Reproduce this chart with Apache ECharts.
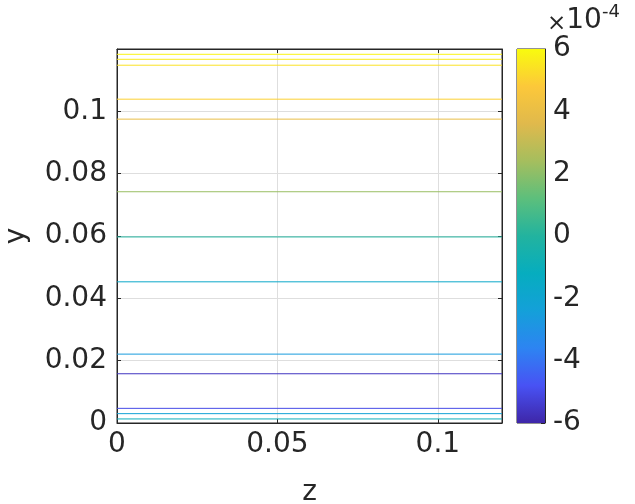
<!DOCTYPE html>
<html>
<head>
<meta charset="utf-8">
<script src="https://cdn.jsdelivr.net/npm/echarts@6/dist/echarts.min.js"></script>
<style>
  html, body { margin: 0; padding: 0; background: #fff; }
  #chart { width: 635px; height: 504px; }
</style>
</head>
<body>
<div id="chart"></div>
<script>
// Contour levels: y position of each horizontal contour and its level (units of 1e-4)
const contourY = [0.1183, 0.1167, 0.1148, 0.1039, 0.0975, 0.0742, 0.0597, 0.0453, 0.0221, 0.0158, 0.0047, 0.0030, 0.0013];
const contourLevel = [5.8, 5.6, 5.4, 5.0, 4.0, 2.2, 0.0, -1.7, -2.6, -5.6, -5.0, -2.2, -1.0];

// Axis ranges and tick labels
const zRange = [0, 0.12];
const yRange = [0, 0.12];
const zTicks = [0, 0.05, 0.1];
const yTicks = [0, 0.02, 0.04, 0.06, 0.08, 0.1];
const cbRange = [-6, 6];
const cbTicks = [-6, -4, -2, 0, 2, 4, 6];

// parula colormap stops
const parula = ['#3e26a8', '#4852f4', '#2d84f2', '#14a0d9', '#06adbf', '#22b39f',
                '#5cbf7c', '#a5be5e', '#e0b94c', '#fcc83a', '#f9fb0e'];

function hexToRgb(h) {
  return [parseInt(h.slice(1, 3), 16), parseInt(h.slice(3, 5), 16), parseInt(h.slice(5, 7), 16)];
}
function levelColor(v) {
  let t = (v - cbRange[0]) / (cbRange[1] - cbRange[0]);
  t = Math.max(0, Math.min(1, t));
  const pos = t * (parula.length - 1);
  const i = Math.min(Math.floor(pos), parula.length - 2);
  const f = pos - i;
  const a = hexToRgb(parula[i]), b = hexToRgb(parula[i + 1]);
  const c = a.map((x, k) => Math.round(x + (b[k] - x) * f));
  return 'rgb(' + c.join(',') + ')';
}

const txt = '#262626';
const font = 'DejaVu Sans';
const fs = 28;

const contourSeries = contourY.map((y, i) => ({
  type: 'line',
  xAxisIndex: 0,
  yAxisIndex: 0,
  data: [[zRange[0], y], [zRange[1], y]],
  showSymbol: false,
  symbol: 'none',
  silent: true,
  lineStyle: { color: levelColor(contourLevel[i]), width: 1 },
  z: 3
}));

function fmtTick(list) {
  return function (v) {
    for (const t of list) {
      if (Math.abs(v - t) < 1e-9) return String(t);
    }
    return '';
  };
}

const chart = echarts.init(document.getElementById('chart'), null, { renderer: 'canvas' });

chart.setOption({
  backgroundColor: '#ffffff',
  animation: false,
  textStyle: { fontFamily: font, color: txt },
  grid: [
    { left: 117, top: 49, width: 385, height: 374, outerBoundsMode: 'none', containLabel: false,
      show: true, borderColor: txt, borderWidth: 1, backgroundColor: '#fff' },
    { left: 517, top: 49, width: 28, height: 374, outerBoundsMode: 'none', containLabel: false,
      show: true, borderColor: txt, borderWidth: 1 }
  ],
  xAxis: [
    {
      gridIndex: 0, type: 'value', min: zRange[0], max: zRange[1], interval: 0.05,
      name: 'z', nameLocation: 'middle', nameGap: 56,
      nameTextStyle: { fontSize: fs, color: txt, fontFamily: font },
      axisLine: { show: true, onZero: false, lineStyle: { color: txt, width: 1 } },
      axisTick: { show: true, inside: true, length: 4, lineStyle: { color: txt } },
      axisLabel: { fontSize: fs, color: txt, fontFamily: font, margin: 8, showMaxLabel: false, formatter: fmtTick(zTicks) },
      splitLine: { show: true, lineStyle: { color: '#dedede', width: 1 } }
    },
    {
      gridIndex: 0, type: 'value', min: zRange[0], max: zRange[1], interval: 0.05, position: 'top',
      axisLine: { show: true, onZero: false, lineStyle: { color: txt } },
      axisTick: { show: true, inside: true, length: 4, lineStyle: { color: txt } },
      axisLabel: { show: false }, splitLine: { show: false }
    },
    {
      gridIndex: 1, type: 'value', min: 0, max: 1, show: false
    }
  ],
  yAxis: [
    {
      gridIndex: 0, type: 'value', min: yRange[0], max: yRange[1], interval: 0.02,
      name: 'y', nameLocation: 'middle', nameGap: 86, nameRotate: 90,
      nameTextStyle: { fontSize: fs, color: txt, fontFamily: font },
      axisLine: { show: true, onZero: false, lineStyle: { color: txt, width: 1 } },
      axisTick: { show: true, inside: true, length: 4, lineStyle: { color: txt } },
      axisLabel: { fontSize: fs, color: txt, fontFamily: font, margin: 10, showMaxLabel: false, formatter: fmtTick(yTicks) },
      splitLine: { show: true, lineStyle: { color: '#dedede', width: 1 } }
    },
    {
      gridIndex: 0, type: 'value', min: yRange[0], max: yRange[1], interval: 0.02, position: 'right',
      axisLine: { show: true, onZero: false, lineStyle: { color: txt } },
      axisTick: { show: true, inside: true, length: 4, lineStyle: { color: txt } },
      axisLabel: { show: false }, splitLine: { show: false }
    },
    {
      gridIndex: 1, type: 'value', min: cbRange[0], max: cbRange[1], interval: 2, position: 'right',
      name: '{x|×}{b|10}{s|-4}', nameLocation: 'end', nameGap: 1,
      nameTextStyle: {
        align: 'left', padding: [0, 0, 0, 2],
        rich: {
          x: { fontSize: 23, color: txt, fontFamily: font, verticalAlign: 'bottom' },
          b: { fontSize: fs, color: txt, fontFamily: font, verticalAlign: 'bottom' },
          s: { fontSize: 18, color: txt, fontFamily: font, verticalAlign: 'top', padding: [0, 0, 14, 0] }
        }
      },
      axisLine: { show: true, onZero: false, lineStyle: { color: txt } },
      axisTick: { show: true, inside: true, length: 4, lineStyle: { color: txt } },
      axisLabel: { fontSize: fs, color: txt, fontFamily: font, margin: 8, formatter: fmtTick(cbTicks) },
      splitLine: { show: false }
    }
  ],
  series: contourSeries.concat([
    {
      type: 'line',
      xAxisIndex: 2,
      yAxisIndex: 2,
      data: [[0, cbRange[0]], [1, cbRange[1]]],
      symbol: 'none',
      silent: true,
      lineStyle: { opacity: 0 },
      markArea: {
        silent: true,
        itemStyle: {
          color: new echarts.graphic.LinearGradient(0, 1, 0, 0,
            parula.map((c, i) => ({ offset: i / (parula.length - 1), color: c })))
        },
        data: [[{ coord: [0, cbRange[0]] }, { coord: [1, cbRange[1]] }]]
      }
    }
  ])
});
</script>
</body>
</html>
